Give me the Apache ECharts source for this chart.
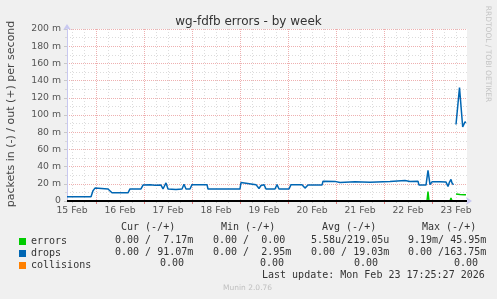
<!DOCTYPE html>
<html>
<head>
<meta charset="utf-8">
<script src="https://cdn.jsdelivr.net/npm/echarts@6/dist/echarts.min.js"></script>
<style>html,body{margin:0;padding:0;background:#f0f0f0;}#c{width:497px;height:299px;}</style>
</head>
<body>
<div id="c"></div>
<script>
// time axis: hours since 15 Feb 00:00 (week view: 15 Feb 09:30 .. 23 Feb 17:30, 30-minute steps)
const xStart = 9.5, xEnd = 209.5, xStep = 0.5;
const dayLabels = ['15 Feb','16 Feb','17 Feb','18 Feb','19 Feb','20 Feb','21 Feb','22 Feb','23 Feb'];
const yTickStep = 20; // milli-packets

// drops (out, +) in milli packets/s, vertices
const dropsT = [9.5,21.5,22.5,23.5,24,30,31,32,40,41,46.5,47.5,51,53.5,56.5,57.5,58.5,59,60,64,65,67,68,69,71,72,79.5,80,96,96.5,97.5,104,104.5,105.5,106.5,108,109,113.5,114.5,115.5,120.5,121.5,127,128.5,130,137,137.5,143.5,146,147,153.5,161,162,171,178.5,181,185,185.5,189,190,191,192,196,199,200,200.75,201.5,202,202.75,203.5,204,204.75,205.75,206.25,207.35,208.5,209];
const dropsV = [5,5,12,15,14,14,15,9.5,9.5,14,14,18.5,18.8,18.2,18.5,14,14,21,14,13.5,14,14,19.5,14,14,19,19,14,14,21.5,19.3,19,17,14.5,18,19,14,14,19,14,14,19,19,15,18.5,18.5,23,22.8,21.5,23,22.5,21.8,23,22.8,23.8,22.8,23,18.5,18.5,35.5,19,22.3,22.5,22,17,22,25,21,19,null,89,89,132,132,86,92,91];

// errors (out, +) in milli packets/s
const errorsT = [9.5,189.5,190,190.5,201,201.5,202,202.75,203.5,204,205,206,207,208,209];
const errorsV = [0,0,11,0,0,3.5,0,0,null,8,7,7.5,7,7.3,7.2];

// collisions: no visible values
const collisionsT = [];
const collisionsV = [];

// legend table
const legendHeader = ['Cur (-/+)','Min (-/+)','Avg (-/+)','Max (-/+)'];
const errorsStats = ['0.00 /  7.17m','0.00 /  0.00','5.58u/219.05u','9.19m/ 45.95m'];
const dropsStats = ['0.00 / 91.07m','0.00 /  2.95m','0.00 / 19.03m','0.00 /163.75m'];
const collisionsStats = ['0.00','0.00','0.00','0.00'];

function zip(t, v){ return t.map((x,i)=>[x, v[i]===null ? '-' : v[i]]); }

// half-hour slots used only for grid lines / day labels
const slots = [];
for (let h = xStart; h <= xEnd + 1e-9; h += xStep) slots.push(String(h));
const every6h = (i, v) => { const h = parseFloat(v); return h % 6 === 0 && h % 24 !== 0; };
const midnight = (i, v) => parseFloat(v) % 24 === 0;
const noon = (i, v) => parseFloat(v) % 24 === 12;

const chart = echarts.init(document.getElementById('c'), null, {renderer:'canvas'});
const mono = 'DejaVu Sans Mono';
const sans = 'DejaVu Sans';
const txtColor = '#333';

const headerX = [121,221,322,422];
const colX = [115,213,311,408];
const collX = [160,260,354,454];
const graphics = [];
legendHeader.forEach((s,i)=>graphics.push({type:'text', left:headerX[i], top:222, style:{text:s, font:'10px '+mono, fill:txtColor}}));
errorsStats.forEach((s,i)=>graphics.push({type:'text', left:colX[i], top:235, style:{text:s, font:'10px '+mono, fill:txtColor}}));
dropsStats.forEach((s,i)=>graphics.push({type:'text', left:colX[i], top:247, style:{text:s, font:'10px '+mono, fill:txtColor}}));
collisionsStats.forEach((s,i)=>graphics.push({type:'text', left:collX[i], top:258, style:{text:s, font:'10px '+mono, fill:txtColor}}));
graphics.push({type:'text', left:262, top:270, style:{text:'Last update: Mon Feb 23 17:25:27 2026', font:'10px '+mono, fill:txtColor}});
graphics.push({type:'text', left:223, top:284, style:{text:'Munin 2.0.76', font:'7.5px '+sans, fill:'#c0c0c0'}});
graphics.push({type:'text', x:488, y:54, rotation:-Math.PI/2, style:{text:'RRDTOOL / TOBI OETIKER', font:'7.5px '+sans, fill:'#c4c4c4', align:'center', verticalAlign:'middle'}});
graphics.push({type:'text', x:11, y:114, rotation:Math.PI/2, style:{text:'packets in (-) / out (+) per second', font:'11px '+sans, fill:'#444', align:'center', verticalAlign:'middle'}});

const gridGrey = '#dcdcdc';
const gridRed = '#eeb0b0';

const option = {
  backgroundColor:'#f0f0f0',
  animation:false,
  title:{text:'wg-fdfb errors - by week', left:'center', top:11, textStyle:{fontFamily:sans, fontSize:12, fontWeight:'normal', color:'#333'}},
  grid:{left:67, right:30, top:29, bottom:98, show:true, backgroundColor:'#ffffff', borderWidth:0},
  legend:{orient:'vertical', left:14, top:231, icon:'rect', itemWidth:7, itemHeight:7, itemGap:1,
    textStyle:{fontFamily:mono, fontSize:10, color:txtColor, lineHeight:11},
    data:['errors','drops','collisions'], selectedMode:false},
  xAxis:[
    {type:'category', data:slots, boundaryGap:false, position:'bottom',
      axisLine:{show:false},
      axisTick:{show:true, interval:every6h, length:2, lineStyle:{color:'#c8c8c8'}},
      axisLabel:{show:false},
      splitLine:{show:true, interval:every6h, lineStyle:{color:gridGrey, type:[1,2], width:1}}},
    {type:'category', data:slots, boundaryGap:false, position:'bottom',
      axisLine:{show:false},
      axisTick:{show:true, interval:midnight, length:3, lineStyle:{color:'#e08080'}},
      axisLabel:{show:true, interval:noon, margin:5, color:'#555', fontFamily:sans, fontSize:9.3,
        formatter:function(v){ const h = parseFloat(v); return dayLabels[Math.round((h-12)/24)] || ''; }},
      splitLine:{show:true, interval:midnight, lineStyle:{color:gridRed, type:[1,1], width:1}}},
    {type:'value', min:xStart, max:xEnd, position:'bottom',
      axisLine:{show:true, onZero:false, lineStyle:{color:'#c8c8f0', width:1}, symbol:['none','arrow'], symbolSize:[6,6], symbolOffset:[0,5]},
      axisTick:{show:false}, axisLabel:{show:false}, splitLine:{show:false}}
  ],
  yAxis:{type:'value', min:0, max:200, interval:yTickStep,
    axisLine:{show:true, lineStyle:{color:'#c8c8f0'}, symbol:['none','arrow'], symbolSize:[6,6], symbolOffset:[0,5]},
    axisTick:{show:true, length:3, lineStyle:{color:'#c8c8c8'}},
    minorTick:{show:true, splitNumber:2, length:2, lineStyle:{color:'#d8d8d8'}},
    axisLabel:{margin:6, color:'#555', fontFamily:sans, fontSize:9.3, formatter:function(v){ return v===0 ? '0' : v+' m'; }},
    splitLine:{show:true, lineStyle:{color:gridRed, type:[1,1], width:1}},
    minorSplitLine:{show:true, lineStyle:{color:gridGrey, type:[1,2], width:1}}
  },
  series:[
    {name:'errors', type:'line', xAxisIndex:2, data:zip(errorsT, errorsV), showSymbol:false, color:'#00cc00', lineStyle:{width:1.5}, connectNulls:false, z:3},
    {name:'drops', type:'line', xAxisIndex:2, data:zip(dropsT, dropsV), showSymbol:false, color:'#0066b3', lineStyle:{width:1.5}, connectNulls:false, z:4},
    {name:'collisions', type:'line', xAxisIndex:2, data:zip(collisionsT, collisionsV), showSymbol:false, color:'#ff8000', lineStyle:{width:1.5}, z:5,
      markLine:{silent:true, symbol:'none', label:{show:false}, lineStyle:{color:'#000', width:2, type:'solid'}, data:[{yAxis:0}]}}
  ],
  graphic:graphics
};
chart.setOption(option);
</script>
</body>
</html>
